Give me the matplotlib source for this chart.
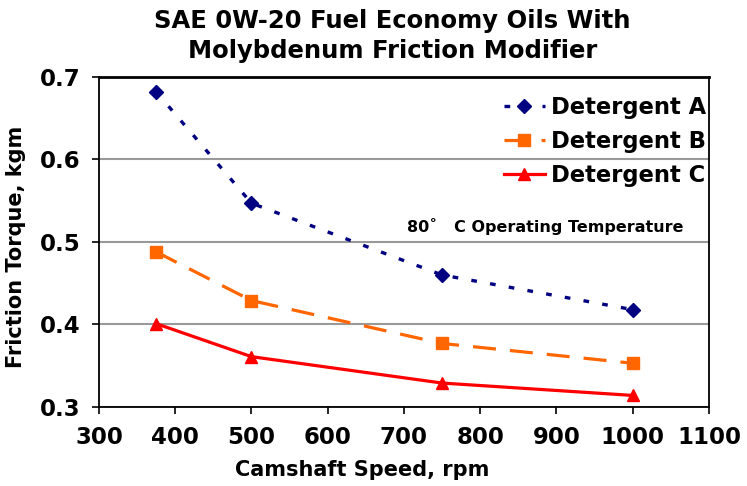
import matplotlib
matplotlib.use("Agg")
import matplotlib.pyplot as plt

speed = [375, 500, 750, 1000]
det_a = [0.682, 0.547, 0.460, 0.418]
det_b = [0.488, 0.429, 0.377, 0.353]
det_c = [0.401, 0.361, 0.329, 0.314]
labels = ["Detergent A", "Detergent B", "Detergent C"]
xticks = [300, 400, 500, 600, 700, 800, 900, 1000, 1100]
yticks = [0.3, 0.4, 0.5, 0.6, 0.7]

plt.rcParams["font.family"] = "DejaVu Sans"
plt.rcParams["font.weight"] = "bold"

fig = plt.figure(figsize=(7.47, 4.86), dpi=100)
ax = fig.add_axes([0.1325, 0.1626, 0.8165, 0.679])

ax.plot(speed, det_a, color="#000080", linestyle=(0, (1.7, 4.0)), lw=2.4,
        marker="D", ms=7.5, label=labels[0])
ax.plot(speed, det_b, color="#FF6600", linestyle=(0, (7.2, 4.4)), lw=2.3,
        marker="s", ms=8, label=labels[1])
ax.plot(speed, det_c, color="#FF0000", linestyle="-", lw=2.3,
        marker="^", ms=9, label=labels[2])

ax.set_xlim(300, 1100)
ax.set_ylim(0.3, 0.7)
ax.set_xticks(xticks)
ax.set_yticks(yticks)
ax.set_yticklabels([f"{v:.1f}" for v in yticks])
ax.tick_params(labelsize=16.5, direction="out", length=5, width=1.2)
ax.tick_params(axis="x", pad=9)
ax.tick_params(axis="y", pad=8)
for lab in ax.get_xticklabels() + ax.get_yticklabels():
    lab.set_fontweight("bold")
ax.yaxis.grid(True, color="#999999", lw=1.5)
ax.set_axisbelow(True)
for s in ax.spines.values():
    s.set_linewidth(1.3)
ax.spines["top"].set_linewidth(2)

ax.set_xlabel("Camshaft Speed, rpm", fontsize=15, fontweight="bold")
ax.xaxis.set_label_coords(0.431, -0.162)
ax.set_ylabel("Friction Torque, kgm", fontsize=15, fontweight="bold")
ax.yaxis.set_label_coords(-0.119, 0.485)
fig.text(0.525, 0.981, "SAE 0W-20 Fuel Economy Oils With\nMolybdenum Friction Modifier",
         fontsize=17.5, fontweight="bold", ha="center", va="top", linespacing=1.32)

ax.text(885, 0.519, "80\u02da   C Operating Temperature", fontsize=11.5,
        fontweight="bold", ha="center", va="center")

ax.legend(loc="upper right", bbox_to_anchor=(1.024, 0.995), frameon=False,
          handlelength=1.8, borderaxespad=0.45, labelspacing=0.5,
          handletextpad=0.3, borderpad=0.3, prop={"weight": "bold", "size": 16.3})

fig.savefig("out.png", dpi=100)
